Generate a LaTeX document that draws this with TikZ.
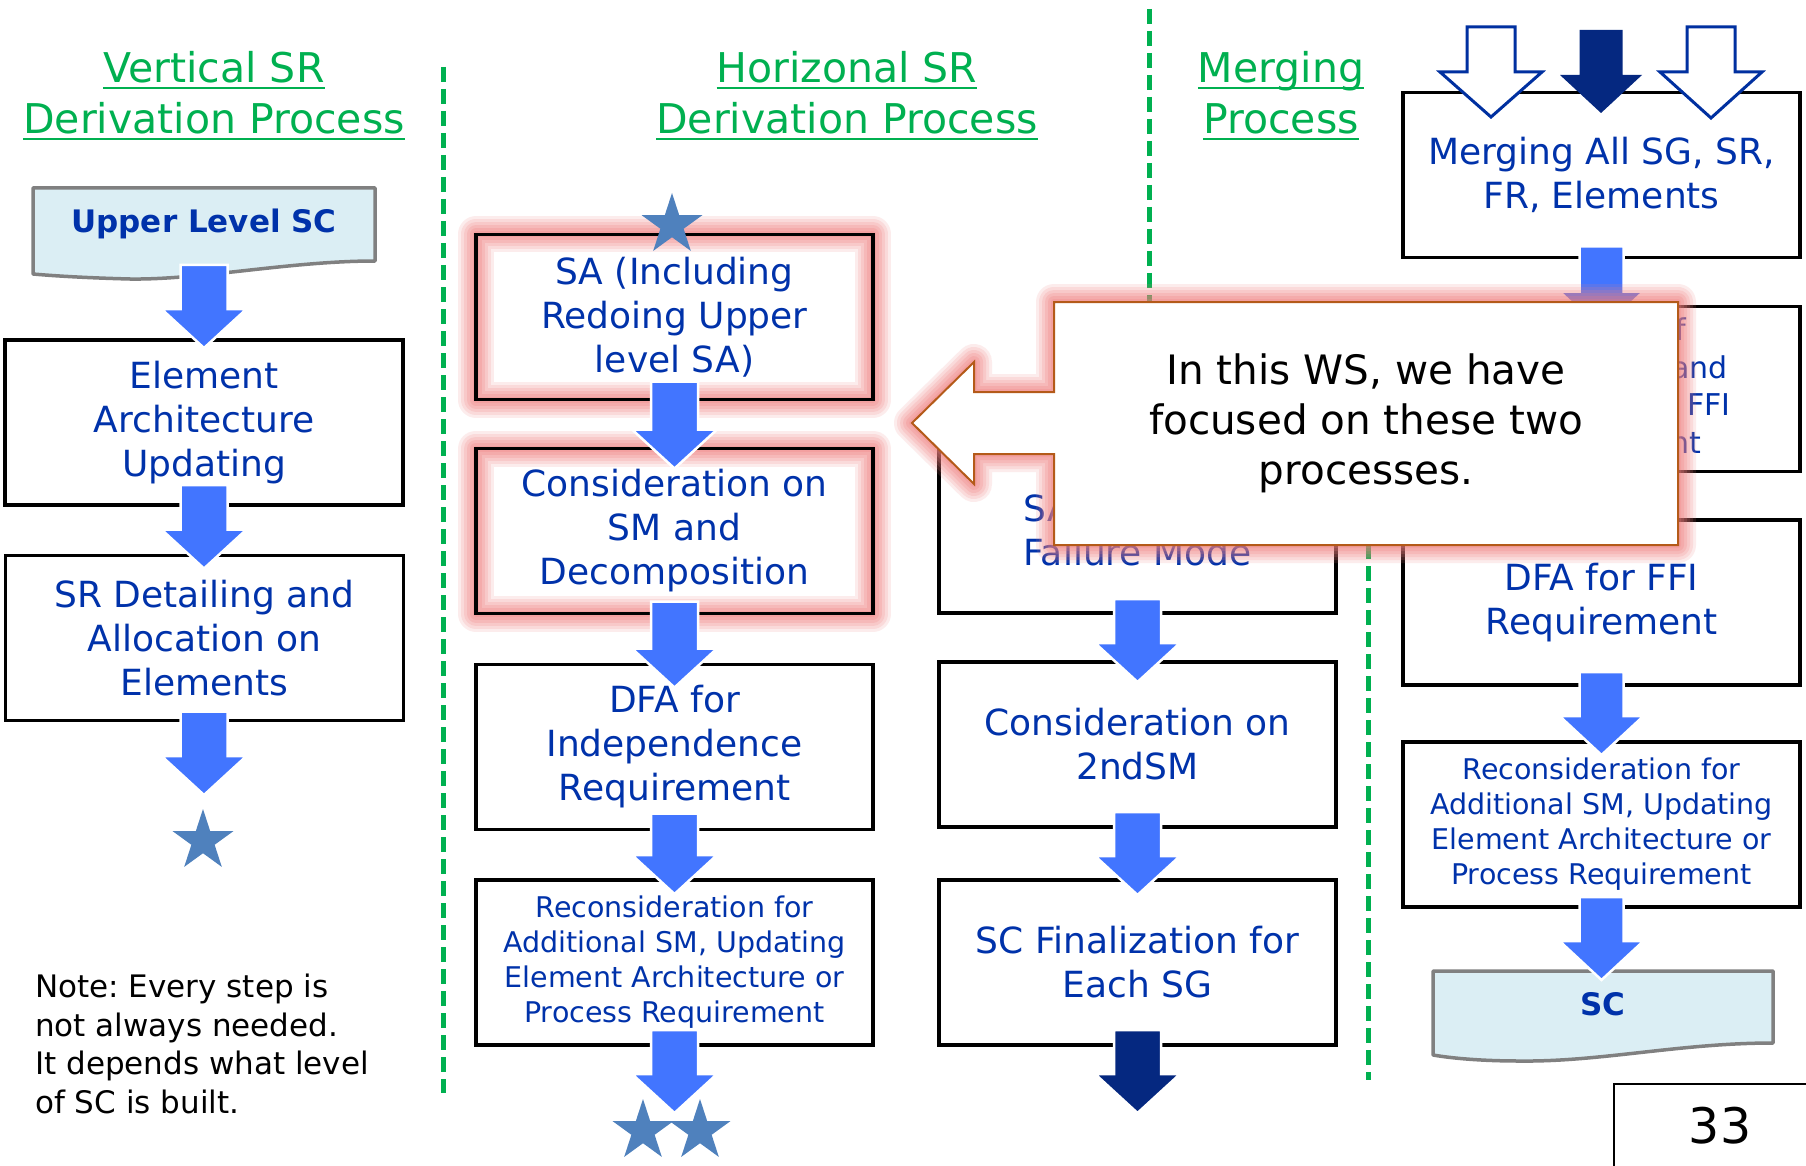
\documentclass[tikz,border=0pt]{standalone}
\usepackage{fontspec}
\setmainfont{DejaVu Sans}
\usetikzlibrary{calc,shapes.geometric}

\definecolor{flowblue}{RGB}{66,117,255}
\definecolor{navyarrow}{RGB}{5,40,128}
\definecolor{boxtext}{RGB}{0,50,170}
\definecolor{titlegreen}{RGB}{0,176,80}
\definecolor{starblue}{RGB}{79,129,189}
\definecolor{docfill}{RGB}{219,238,244}
\definecolor{docline}{RGB}{128,128,128}
\definecolor{glowred}{RGB}{240,125,125}
\definecolor{calloutline}{RGB}{180,90,25}
\definecolor{outlinenavy}{RGB}{0,48,160}

% underline placed just under the baseline (crossing descenders)
\newlength\ulwidth
\newcommand\ulined[1]{\settowidth{\ulwidth}{#1}\rlap{\rule[-6.3pt]{\ulwidth}{2.2pt}}#1}

% block arrow: #1 style, #2 start, #3 tip, #4 shaft half width, #5 head half width, #6 head length
\newcommand\blockarrow[6]{%
  \filldraw[#1] ($(#2)+(-#4,0)$) -- ($(#2)+(#4,0)$) -- ($(#3)+(#4,-#6)$) -- ($(#3)+(#5,-#6)$)
    -- (#3) -- ($(#3)+(-#5,-#6)$) -- ($(#3)+(-#4,-#6)$) -- cycle;}

% soft red glow along a path
\newcommand\glowpath[1]{%
  \foreach \w/\o in {36/0.14,30/0.16,24/0.18,18/0.2,12/0.22,6/0.22}{%
    \draw[glowred,line width=\w pt,opacity=\o,line join=round] #1;}}

\tikzset{
  procbox/.style={draw=black, line width=3.2pt, fill=white, minimum width=397pt,
    minimum height=165pt, inner sep=0pt, outer sep=0pt, text=boxtext, align=center,
    font=\fontsize{36}{44}\selectfont},
  smalltext/.style={font=\fontsize{28.5}{35}\selectfont},
  fragment/.style={inner sep=0pt, text=boxtext, font=\fontsize{30}{38}\selectfont},
  titletext/.style={text=titlegreen, align=center, inner sep=0pt, font=\fontsize{41}{51}\selectfont},
  docshape/.style={draw=docline, line width=3.5pt, fill=docfill, line join=round},
  doctext/.style={text=boxtext, inner sep=0pt, font=\fontsize{31}{38}\selectfont\bfseries},
  sepline/.style={draw=titlegreen, line width=5pt, dash pattern=on 15pt off 7pt},
  flowfill/.style={fill=flowblue, draw=white, line width=2.5pt},
  navyfill/.style={fill=navyarrow, draw=white, line width=2.5pt},
  hollowarrow/.style={fill=white, draw=outlinenavy, line width=3pt},
  navysolid/.style={fill=navyarrow, draw=none},
  starmark/.style={star, star points=5, star point ratio=2.618, minimum size=64pt,
    inner sep=0pt, fill=starblue, draw=none},
  notetext/.style={inner sep=0pt, align=left, font=\fontsize{31}{38.4}\selectfont},
  callouttext/.style={inner sep=0pt, align=center, font=\fontsize{40.5}{50}\selectfont}
}

\begin{document}
\frenchspacing
\begin{tikzpicture}[x=1pt,y=-1pt]
\useasboundingbox (0,0) rectangle (1806,1166);
\fill[white] (0,0) rectangle (1806,1166);

% column separators
\draw[sepline] (443,67) -- (443,1093);
\draw[sepline] (1149,9) -- (1149,330);
\draw[sepline] (1368,500) -- (1368,1080);

% section titles
\node[titletext] (tvert) at (214,95.6) {\ulined{Vertical SR}\\\ulined{Derivation Process}};
\node[titletext] (thori) at (847,95.6) {\ulined{Horizonal SR}\\\ulined{Derivation Process}};
\node[titletext] (tmerg) at (1281,95.6) {\ulined{Merging}\\\ulined{Process}};

% document shapes
\path[docshape] (33,188) -- (375,188) -- (375,261)
  .. controls (290,261) and (200,280) .. (130,279)
  .. controls (90,278) and (55,276) .. (33,274) -- cycle;
\node[doctext, anchor=base] (ulsc) at (204,233) {Upper Level SC};
\path[docshape] (1433,971) -- (1773,971) -- (1773,1043)
  .. controls (1680,1043) and (1600,1062) .. (1520,1061)
  .. controls (1480,1061) and (1450,1058) .. (1433,1055) -- cycle;
\node[doctext, anchor=base] (sc) at (1603,1015) {SC};

% vertical SR derivation
\node[procbox, minimum width=398pt] (elem) at (204,422.5) {Element\\Architecture\\Updating};
\node[procbox, minimum width=398pt] (srd) at (204.5,638) {SR Detailing and\\Allocation on\\Elements};

% horizontal SR derivation, first column
\node[procbox] (sa) at (674.5,317) {SA (Including\\Redoing Upper\\level SA)};
\node[procbox] (cons) at (674.5,531) {Consideration on\\SM and\\Decomposition};
\node[procbox] (dfa) at (674.5,747) {DFA for\\Independence\\Requirement};
\node[procbox, smalltext] (rec) at (674.5,962.5) {Reconsideration for\\Additional SM, Updating\\Element Architecture or\\Process Requirement};

% horizontal SR derivation, second column
\node[procbox, align=left] (safm) at (1137.5,530.5) {SA\\Failure Mode};
\node[procbox] (cons2) at (1137.5,744.5) {Consideration on\\2ndSM};
\node[procbox] (scfin) at (1137.5,962.5) {SC Finalization for\\Each SG};

% merging
\node[procbox] (merge) at (1601.5,175) {Merging All SG, SR,\\FR, Elements};
\node[procbox] (ffi) at (1601.5,389) {};
\node[fragment, anchor=base east] (ffi1) at (1686,340) {of};
\node[fragment, anchor=base east] (ffi2) at (1728,378) {and};
\node[fragment, anchor=base east] (ffi3) at (1731,415) {FFI};
\node[fragment, anchor=base east] (ffi4) at (1701,453) {nt};
\node[procbox] (dfaffi) at (1601.5,602.5) {DFA for FFI\\Requirement};
\node[procbox, smalltext] (rec2) at (1601.5,824.5) {Reconsideration for\\Additional SM, Updating\\Element Architecture or\\Process Requirement};

% highlighted steps
\glowpath{(sa.south west) rectangle (sa.north east)}
\draw[black, line width=3.2pt] (sa.south west) rectangle (sa.north east);
\glowpath{(cons.south west) rectangle (cons.north east)}
\draw[black, line width=3.2pt] (cons.south west) rectangle (cons.north east);

% arrow end points
\coordinate (l1s) at (204,265);
\coordinate (l1t) at ($(elem.north)+(0,8)$);
\coordinate (l2s) at ($(elem.south)+(0,-20)$);
\coordinate (l2t) at ($(srd.north)+(-0.5,13)$);
\coordinate (l3s) at ($(srd.south)+(-0.5,-9)$);
\coordinate (l3t) at (204,795);
\coordinate (m1s) at ($(sa.south)+(0,-18)$);
\coordinate (m1t) at ($(cons.north)+(0,20)$);
\coordinate (m2s) at ($(cons.south)+(0,-12)$);
\coordinate (m2t) at ($(dfa.north)+(0,23)$);
\coordinate (m3s) at ($(dfa.south)+(0,-16)$);
\coordinate (m3t) at ($(rec.north)+(0,14)$);
\coordinate (m4s) at ($(rec.south)+(0,-15)$);
\coordinate (m4t) at (674.5,1113);
\coordinate (c1s) at ($(safm.south)+(0,-14)$);
\coordinate (c1t) at ($(cons2.north)+(0,20)$);
\coordinate (c2s) at ($(cons2.south)+(0,-15)$);
\coordinate (c2t) at ($(scfin.north)+(0,15)$);
\coordinate (c3s) at ($(scfin.south)+(0,-15)$);
\coordinate (c3t) at (1137.5,1113);
\coordinate (r1s) at ($(merge.south)+(0,-11)$);
\coordinate (r1t) at ($(ffi.north)+(0,24)$);
\coordinate (r2s) at ($(ffi.south)+(0,-12)$);
\coordinate (r2t) at ($(dfaffi.north)+(0,14)$);
\coordinate (r3s) at ($(dfaffi.south)+(0,-13)$);
\coordinate (r3t) at ($(rec2.north)+(0,13)$);
\coordinate (r4s) at ($(rec2.south)+(0,-10)$);
\coordinate (r4t) at (1601.5,980);
\coordinate (in1s) at (1491,27);
\coordinate (in1t) at (1491,117);
\coordinate (in2s) at (1601,30);
\coordinate (in2t) at (1601,113);
\coordinate (in3s) at (1711,27);
\coordinate (in3t) at (1711,118);

% flow arrows
\blockarrow{flowfill}{l1s}{l1t}{23.5}{42.5}{39}
\blockarrow{flowfill}{l2s}{l2t}{23.5}{42.5}{39}
\blockarrow{flowfill}{l3s}{l3t}{23.5}{42.5}{39}
\blockarrow{flowfill}{m1s}{m1t}{23.5}{42.5}{39}
\blockarrow{flowfill}{m2s}{m2t}{23.5}{42.5}{39}
\blockarrow{flowfill}{m3s}{m3t}{23.5}{42.5}{39}
\blockarrow{flowfill}{m4s}{m4t}{23.5}{42.5}{39}
\blockarrow{flowfill}{c1s}{c1t}{23.5}{42.5}{39}
\blockarrow{flowfill}{c2s}{c2t}{23.5}{42.5}{39}
\blockarrow{navyfill}{c3s}{c3t}{23.5}{42.5}{39}
\blockarrow{flowfill}{r1s}{r1t}{22}{42}{39}
\blockarrow{flowfill}{r2s}{r2t}{22}{42}{39}
\blockarrow{flowfill}{r3s}{r3t}{22}{42}{39}
\blockarrow{flowfill}{r4s}{r4t}{22}{42}{39}

% incoming arrows of the merging step
\blockarrow{hollowarrow}{in1s}{in1t}{24}{51}{45}
\blockarrow{navysolid}{in2s}{in2t}{21.5}{41}{38}
\blockarrow{hollowarrow}{in3s}{in3t}{24}{51}{46}

% stars
\node[starmark] (starl) at (203,841) {};
\node[starmark] (stars) at (672,225) {};
\node[starmark] (stard1) at (643,1131) {};
\node[starmark] (stard2) at (700,1131) {};

% note and page number
\node[notetext, anchor=west] (note) at (35,1044) {Note: Every step is\\not always needed.\\It depends what level\\of SC is built.};
\node[draw=black, line width=2pt, anchor=north west, minimum width=212pt, minimum height=84pt,
  inner sep=0pt, font=\fontsize{49}{49}\selectfont] (pageno) at (1613,1083) {33};

% callout
\coordinate (cb1) at (1054,302);
\coordinate (cb2) at (1678,302);
\coordinate (cb3) at (1678,545);
\coordinate (cb4) at (1054,545);
\coordinate (cb5) at (1054,454);
\coordinate (cb6) at (974,454);
\coordinate (cb7) at (974,484);
\coordinate (cb8) at (912,423);
\coordinate (cb9) at (974,362);
\coordinate (cb10) at (974,392);
\coordinate (cb11) at (1054,392);
\glowpath{(cb1) -- (cb2) -- (cb3) -- (cb4) -- (cb5) -- (cb6) -- (cb7) -- (cb8) -- (cb9) -- (cb10) -- (cb11) -- cycle}
\filldraw[fill=white, draw=calloutline, line width=2pt, line join=miter]
  (cb1) -- (cb2) -- (cb3) -- (cb4) -- (cb5) -- (cb6) -- (cb7) -- (cb8) -- (cb9) -- (cb10) -- (cb11) -- cycle;
\node[callouttext] (callout) at (1366,423.6) {In this WS, we have\\focused on these two\\processes.};
\end{tikzpicture}
\end{document}
